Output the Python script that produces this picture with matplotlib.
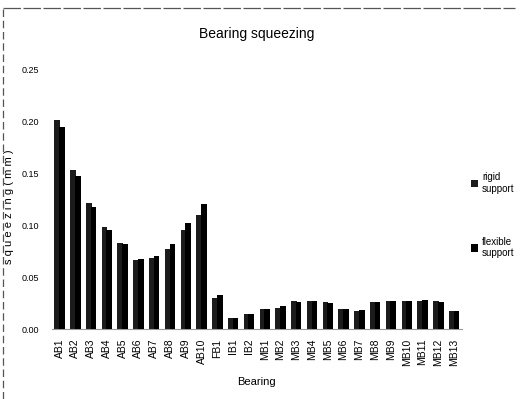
import matplotlib
matplotlib.use("Agg")
import matplotlib.pyplot as plt
import numpy as np
from matplotlib.lines import Line2D

plt.rcParams['font.family'] = ['Liberation Sans Narrow', 'Liberation Sans', 'DejaVu Sans']
plt.rcParams['hatch.color'] = '#555555'
plt.rcParams['hatch.linewidth'] = 0.4

bearings = ["AB1", "AB2", "AB3", "AB4", "AB5", "AB6", "AB7", "AB8", "AB9", "AB10",
            "FB1", "IB1", "IB2",
            "MB1", "MB2", "MB3", "MB4", "MB5", "MB6", "MB7", "MB8", "MB9", "MB10",
            "MB11", "MB12", "MB13"]
rigid = [0.201, 0.153, 0.121, 0.098, 0.083, 0.066, 0.068, 0.077, 0.095, 0.110,
         0.030, 0.011, 0.014,
         0.019, 0.020, 0.027, 0.027, 0.026, 0.019, 0.017, 0.026, 0.027, 0.027,
         0.027, 0.027, 0.0175]
flexible = [0.194, 0.147, 0.117, 0.095, 0.082, 0.067, 0.070, 0.082, 0.102, 0.120,
            0.033, 0.011, 0.014,
            0.019, 0.022, 0.026, 0.027, 0.025, 0.019, 0.018, 0.026, 0.027, 0.027,
            0.028, 0.026, 0.0175]
yticks = [0.00, 0.05, 0.10, 0.15, 0.20, 0.25]
series_names = ["rigid\nsupport", "flexible\nsupport"]

fig = plt.figure(figsize=(5.2, 3.99), dpi=100)
ax = fig.add_axes([0.0994, 0.1754, 0.789, 0.6516])

x = np.arange(len(bearings))
w = 0.36
b1 = ax.bar(x - 0.15, rigid, width=w, color='#1c1c1c', edgecolor='#1c1c1c',
            hatch='....', linewidth=0, label=series_names[0], zorder=2)
b2 = ax.bar(x + 0.15, flexible, width=w, color='#000000', linewidth=0,
            label=series_names[1], zorder=3)

ax.set_xlim(-0.5, len(bearings) - 0.5)
ax.set_ylim(0, 0.25)
ax.set_yticks(yticks)
ax.set_yticklabels([f"{v:.2f}" for v in yticks], fontsize=6.5)
ax.set_xticks(x)
ax.set_xticklabels(bearings, rotation=90, fontsize=7.5)
ax.tick_params(axis='both', length=0)
ax.tick_params(axis='y', pad=9)
ax.tick_params(axis='x', pad=7)
for s in ['top', 'right', 'left']:
    ax.spines[s].set_visible(False)
ax.spines['bottom'].set_color('#999999')
ax.spines['bottom'].set_linewidth(0.8)

ax.set_title("Bearing squeezing", fontsize=10, pad=22)
ax.set_xlabel("Bearing", fontsize=8, labelpad=8)
ax.set_ylabel("s q u e e z i n g ( m m )", fontsize=8, labelpad=2)
ax.yaxis.set_label_coords(-0.092, 0.47)

fig.legend(handles=[b1, b2], labels=series_names, loc='upper left',
           bbox_to_anchor=(0.888, 0.59), frameon=False, fontsize=7,
           handlelength=0.8, handleheight=0.8, handletextpad=0.4,
           labelspacing=4.4)

# figure border (top and left, as in the scan)
fig.add_artist(Line2D([0.006, 0.99], [0.98, 0.98], transform=fig.transFigure,
                      color='#555555', linewidth=0.9, linestyle=(0, (14, 2))))
fig.add_artist(Line2D([0.006, 0.006], [0.0, 0.98], transform=fig.transFigure,
                      color='#555555', linewidth=0.9, linestyle=(0, (6, 3))))

fig.savefig("out.png", dpi=100)
